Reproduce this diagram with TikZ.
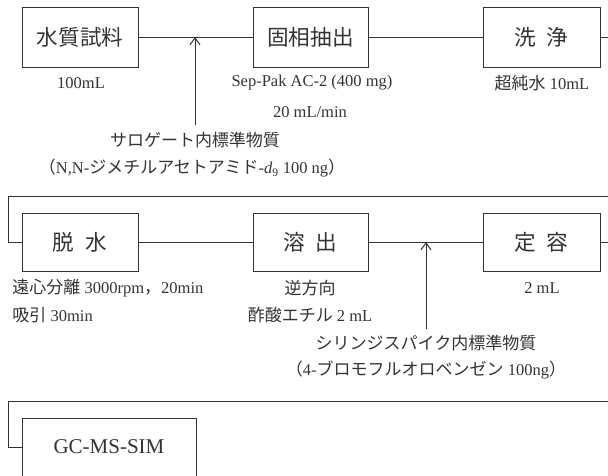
\documentclass[tikz,border=0pt]{standalone}
\usepackage{fontspec}
\setmainfont{Liberation Serif}
\newfontfamily\jp[Scale=1.03]{Noto Sans CJK JP}
\usetikzlibrary{arrows.meta}
\tikzset{box/.style = {draw, line width=1pt, minimum width=116pt, minimum height=60pt,
                       inner sep=0pt, font=\fontsize{21}{24}\selectfont}}
\tikzset{lab/.style = {inner sep=0pt, font=\fontsize{16.5}{20}\selectfont}}
\tikzset{barb/.style = {-{Straight Barb[length=7pt,width=10pt]}}}

\begin{document}
\begin{tikzpicture}[x=1pt, y=-1pt, line width=1pt, black!80]
			\useasboundingbox (0,0) rectangle (608,475);
			\clip (0,0) rectangle (608,475);
			\node [box] (0) at (80,37) {\jp 水質試料};
			\node [box, minimum width=115pt] (1) at (310.5,37) {\jp 固相抽出};
			\node [box, minimum width=117pt] (2) at (541.5,37) {\jp 洗\hspace{.5em}浄};
			\node [box, minimum height=58pt] (3) at (80,242) {\jp 脱\hspace{.5em}水};
			\node [box, minimum height=58pt, minimum width=115pt] (4) at (310.5,242) {\jp 溶\hspace{.5em}出};
			\node [box, minimum height=58pt, minimum width=117pt] (5) at (541.5,242) {\jp 定\hspace{.5em}容};
			\node [box, minimum height=58pt, minimum width=174pt] (6) at (109,447) {GC-MS-SIM};
			\coordinate (7) at (195,37);
			\coordinate (8) at (195,125);
			\coordinate (9) at (614,37);
			\coordinate (10) at (614,196);
			\coordinate (11) at (8,196);
			\coordinate (12) at (8,242);
			\coordinate (13) at (426,242);
			\coordinate (14) at (426,329);
			\coordinate (15) at (614,242);
			\coordinate (16) at (614,401);
			\coordinate (17) at (8,401);
			\coordinate (18) at (8,447);
			\draw (0) to (7);
			\draw (7) to (1);
			\draw (1) to (2);
			\draw (2) -- (9) -- (10) -- (11) -- (12) -- (3);
			\draw (3) to (4);
			\draw (4) to (13);
			\draw (13) to (5);
			\draw (5) -- (15) -- (16) -- (17) -- (18) -- (6);
			\draw [barb] (8) to (7);
			\draw [barb] (14) to (13);
			\node [lab] (19) at (81,83) {100mL};
			\node [lab] (20) at (312,83) {Sep-Pak AC-2 (400 mg)};
			\node [lab] (21) at (310,112) {20 mL/min};
			\node [lab] (22) at (542,83) {{\jp 超純水} 10mL};
			\node [lab] (23) at (195,140) {\jp サロゲート内標準物質};
			\node [lab] (24) at (192,168) {{\jp （}N,N-{\jp ジメチルアセトアミド}-\textit{d}\textsubscript{9} 100 ng{\jp ）}};
			\node [lab, anchor=west] (25) at (12,288) {{\jp 遠心分離} 3000rpm{\jp ，}20min};
			\node [lab, anchor=west] (26) at (12,315) {{\jp 吸引} 30min};
			\node [lab] (27) at (310,288) {\jp 逆方向};
			\node [lab] (28) at (310,315) {{\jp 酢酸エチル} 2 mL};
			\node [lab] (29) at (542,288) {2 mL};
			\node [lab] (30) at (426,343) {\jp シリンジスパイク内標準物質};
			\node [lab] (31) at (426,370) {{\jp （}4-{\jp ブロモフルオロベンゼン} 100ng{\jp ）}};
		\end{tikzpicture}
\end{document}
